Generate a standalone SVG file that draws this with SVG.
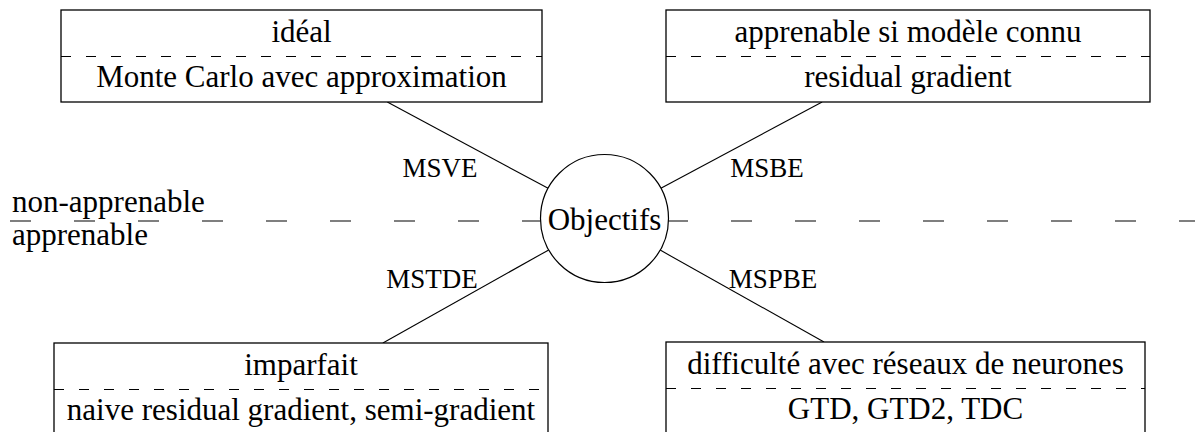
<svg xmlns="http://www.w3.org/2000/svg" width="1195" height="432" viewBox="0 0 1195 432">
  <style>
    text { font-family: "Liberation Serif", "Times New Roman", serif; fill: #000; }
    .t { font-size: 31px; text-anchor: middle; }
    .lbl { font-size: 27px; text-anchor: middle; }
    .side { font-size: 31px; }
    .box { fill: #fff; stroke: #000; stroke-width: 1.3; }
    .sep { stroke: #000; stroke-width: 1; stroke-dasharray: 10 15; fill: none; }
    .edge { stroke: #000; stroke-width: 1.1; fill: none; }
    .divider { stroke: #000; stroke-width: 1.1; stroke-dasharray: 21 43; fill: none; }
  </style>

  <!-- horizontal divider between learnable and non-learnable objectives -->
  <g id="divider">
    <path class="divider" d="M543,221 H10"/>
    <path class="divider" d="M667,221 H1200"/>
    <text class="side" x="12" y="212">non-apprenable</text>
    <text class="side" x="12" y="245">apprenable</text>
  </g>

  <!-- connectors from the central node to each box -->
  <g id="connectors">
    <line class="edge" x1="548.1" y1="188.3" x2="387.3" y2="102"/>
    <line class="edge" x1="660.9" y1="188.3" x2="822.1" y2="102"/>
    <line class="edge" x1="548.7" y1="249.9" x2="382.9" y2="343"/>
    <line class="edge" x1="660.2" y1="250.1" x2="824" y2="342"/>
    <text class="lbl" x="440" y="177">MSVE</text>
    <text class="lbl" x="767" y="177">MSBE</text>
    <text class="lbl" x="432" y="288">MSTDE</text>
    <text class="lbl" x="773" y="288">MSPBE</text>
  </g>

  <g id="objectifs">
    <circle cx="604.5" cy="218.5" r="64" fill="#fff" stroke="#000" stroke-width="1.2"/>
    <text class="t" x="604.5" y="230">Objectifs</text>
  </g>

  <g id="msve">
    <rect class="box" x="61" y="10" width="481" height="92"/>
    <line class="sep" x1="61" y1="56.5" x2="542" y2="56.5"/>
    <text class="t" x="301.5" y="42">idéal</text>
    <text class="t" x="301.5" y="87">Monte Carlo avec approximation</text>
  </g>

  <g id="msbe">
    <rect class="box" x="666" y="10" width="484" height="92"/>
    <line class="sep" x1="666" y1="56.5" x2="1150" y2="56.5"/>
    <text class="t" x="908" y="42">apprenable si modèle connu</text>
    <text class="t" x="908" y="87">residual gradient</text>
  </g>

  <g id="mstde">
    <rect class="box" x="54" y="343" width="494" height="92"/>
    <line class="sep" x1="54" y1="389.5" x2="548" y2="389.5"/>
    <text class="t" x="301" y="375">imparfait</text>
    <text class="t" x="301" y="420">naive residual gradient, semi-gradient</text>
  </g>

  <g id="mspbe">
    <rect class="box" x="666" y="342" width="479" height="92"/>
    <line class="sep" x1="666" y1="388.5" x2="1145" y2="388.5"/>
    <text class="t" x="905.5" y="374">difficulté avec réseaux de neurones</text>
    <text class="t" x="905.5" y="419">GTD, GTD2, TDC</text>
  </g>
</svg>
